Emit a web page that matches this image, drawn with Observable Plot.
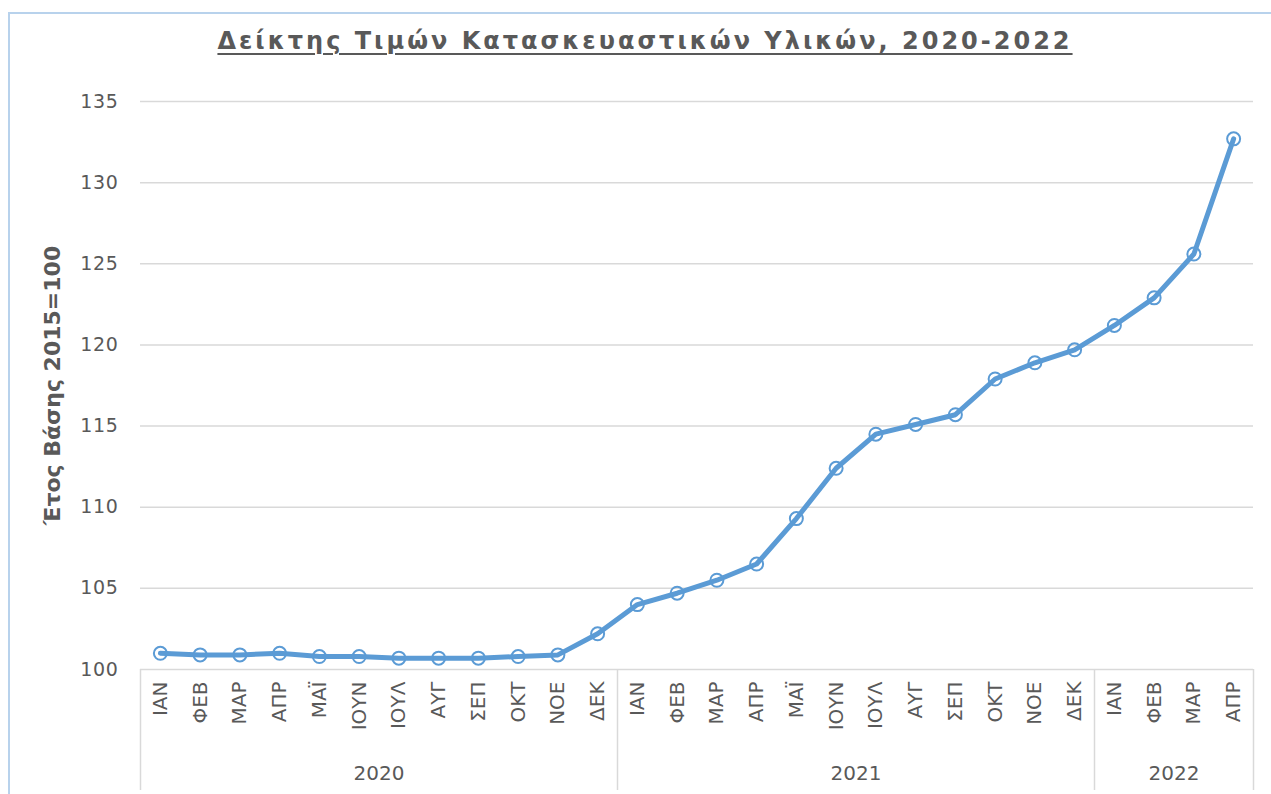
<!DOCTYPE html>
<html>
<head>
<meta charset="utf-8">
<script src="https://cdn.jsdelivr.net/npm/d3@7"></script>
<script src="https://cdn.jsdelivr.net/npm/@observablehq/plot@0.6"></script>
<style>
  body { margin: 0; background: #fff; }
  #wrap { position: relative; width: 1271px; height: 794px; overflow: hidden; font-family: "DejaVu Sans", Verdana, sans-serif; }
  #frame { position: absolute; left: 8px; top: 12px; width: 1290px; height: 820px; border: 2px solid #b8d2ec; box-sizing: border-box; }
  #chart { position: absolute; left: 0; top: 0; }
  #title { position: absolute; left: 8px; width: 1274px; top: 27px; text-align: center; font-weight: bold; font-size: 24px; letter-spacing: 3px; color: #595959; text-decoration: underline; text-decoration-thickness: 2px; text-underline-offset: 4px; z-index: 2; }
  g[aria-label="months"] text { letter-spacing: 2.5px; }
  g[aria-label="years"] text { letter-spacing: 1px; }
  g[aria-label="ylabel"] text { letter-spacing: 3.5px; }
  g[aria-label^="y-axis"] text { letter-spacing: 0.7px; }
</style>
</head>
<body>
<div id="wrap">
  <div id="frame"></div>
  <div id="chart"></div>
  <div id="title"></div>
</div>
<script>
const titleText = "Δείκτης Τιμών Κατασκευαστικών Υλικών, 2020-2022";
const yLabel = "Έτος Βάσης 2015=100";
const months = ["ΙΑΝ","ΦΕΒ","ΜΑΡ","ΑΠΡ","ΜΑΪ","ΙΟΥΝ","ΙΟΥΛ","ΑΥΓ","ΣΕΠ","ΟΚΤ","ΝΟΕ","ΔΕΚ"];
const years = ["2020","2021","2022"];
const values2020 = [101.0, 100.9, 100.9, 101.0, 100.8, 100.8, 100.7, 100.7, 100.7, 100.8, 100.9, 102.2];
const values2021 = [104.0, 104.7, 105.5, 106.5, 109.3, 112.4, 114.5, 115.1, 115.7, 117.9, 118.9, 119.7];
const values2022 = [121.2, 122.9, 125.6, 132.7];
const yTicks = [100, 105, 110, 115, 120, 125, 130, 135];

document.getElementById("title").textContent = titleText;

const series = [values2020, values2021, values2022];
const data = [];
const yearGroups = [];
const boundaries = [-0.5];
series.forEach((vals, k) => {
  const start = data.length;
  vals.forEach((v, m) => data.push({i: data.length, month: months[m], year: years[k], value: v}));
  const end = data.length - 1;
  yearGroups.push({year: years[k], center: (start + end) / 2});
  boundaries.push(end + 0.5);
});

const textColor = "#595959";
const blue = "#5b9bd5";

const chart = Plot.plot({
  width: 1271,
  height: 794,
  marginLeft: 140,
  marginRight: 18,
  marginTop: 101,
  marginBottom: 125,
  style: { background: "transparent", color: textColor, fontFamily: "'DejaVu Sans', Verdana, sans-serif", fontSize: "19px", overflow: "visible" },
  x: { domain: [-0.5, data.length - 0.5], axis: null },
  y: { domain: [100, 135], ticks: yTicks, tickSize: 0, tickPadding: 22, label: null },
  marks: [
    Plot.ruleY(yTicks, { stroke: "#d9d9d9", strokeWidth: 1.5 }),
    Plot.ruleX(boundaries, { x: d => d, y1: 100, y2: 100, insetBottom: -121, stroke: "#d9d9d9", strokeWidth: 1.5 }),
    Plot.text(data, { ariaLabel: "months", x: "i", text: "month", frameAnchor: "bottom", rotate: -90, textAnchor: "end", lineAnchor: "middle", dy: 12, fill: textColor, fontSize: 20 }),
    Plot.text(yearGroups, { ariaLabel: "years", x: "center", text: "year", frameAnchor: "bottom", lineAnchor: "middle", dy: 104, fill: textColor, fontSize: 20 }),
    Plot.text([yLabel], { ariaLabel: "ylabel", text: d => d, frameAnchor: "left", textAnchor: "middle", rotate: -90, dx: -88, fontWeight: "bold", fill: textColor, fontSize: 22 }),
    Plot.line(data, { x: "i", y: "value", stroke: blue, strokeWidth: 5, strokeLinejoin: "round", strokeLinecap: "round" }),
    Plot.dot(data, { x: "i", y: "value", r: 6.5, stroke: blue, fill: "none", strokeWidth: 2 })
  ]
});
document.getElementById("chart").appendChild(chart);
</script>
</body>
</html>
